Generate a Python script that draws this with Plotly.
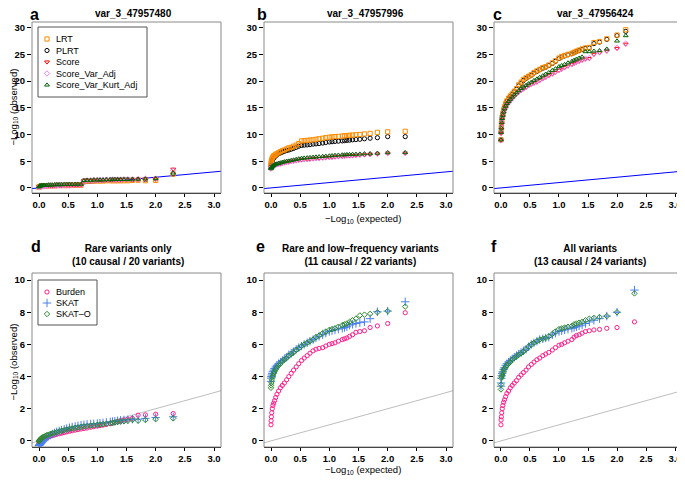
import plotly.graph_objects as go
from plotly.subplots import make_subplots

# =============================================================================
# DATA  (expected / observed -log10 p)
# =============================================================================

EXPECTED = [2.301, 2.0, 1.824, 1.699, 1.602, 1.523, 1.456, 1.398, 1.347, 1.301,
            1.26, 1.222, 1.155, 1.097, 1.046, 1.0, 0.939, 0.886, 0.824, 0.771,
            0.721, 0.668, 0.62, 0.569, 0.523, 0.475, 0.432, 0.387, 0.347, 0.305,
            0.268, 0.229, 0.194, 0.161, 0.131, 0.102, 0.081, 0.06, 0.046, 0.032,
            0.022, 0.013, 0.007, 0.002, 0.0]
# panel c: its top point sits further left
EXPECTED_C = [2.15, 2.0, 1.824, 1.699, 1.602, 1.523, 1.456, 1.398, 1.347, 1.301,
              1.26, 1.222, 1.155, 1.097, 1.046, 1.0, 0.939, 0.886, 0.824, 0.771,
              0.721, 0.668, 0.62, 0.569, 0.523, 0.475, 0.432, 0.387, 0.347, 0.305,
              0.268, 0.229, 0.194, 0.161, 0.131, 0.102, 0.081, 0.06, 0.046, 0.032,
              0.022, 0.013, 0.007, 0.002, 0.0]

# panel a : var_3_47957480
a_lrt = [2.6, 1.4, 1.35, 1.45, 1.4, 1.35, 1.35, 1.35, 1.35, 1.35, 1.35, 1.35, 1.35, 1.3, 1.3,
         1.3, 1.3, 1.3, 1.25, 1.2, 0.5, 0.5, 0.5, 0.5, 0.45, 0.45, 0.45, 0.45, 0.45, 0.45,
         0.4, 0.4, 0.4, 0.4, 0.4, 0.35, 0.35, 0.35, 0.3, 0.3, 0.3, 0.25, 0.25, 0.2, 0.1]
a_plrt = [2.6, 1.7, 1.6, 1.6, 1.55, 1.55, 1.55, 1.5, 1.5, 1.5, 1.5, 1.5, 1.5, 1.45, 1.45,
          1.45, 1.45, 1.4, 1.4, 1.35, 0.65, 0.65, 0.6, 0.6, 0.6, 0.6, 0.55, 0.55, 0.55, 0.55,
          0.5, 0.5, 0.5, 0.5, 0.45, 0.45, 0.45, 0.4, 0.4, 0.35, 0.35, 0.3, 0.3, 0.25, 0.2]
a_score = [3.5, 1.75, 1.7, 1.65, 1.6, 1.6, 1.6, 1.55, 1.55, 1.55, 1.55, 1.5, 1.5, 1.5, 1.45,
           1.45, 1.45, 1.4, 1.4, 1.35, 0.55, 0.55, 0.5, 0.5, 0.5, 0.5, 0.45, 0.45, 0.45, 0.45,
           0.4, 0.4, 0.4, 0.4, 0.35, 0.35, 0.35, 0.3, 0.3, 0.25, 0.25, 0.2, 0.2, 0.15, 0.1]
a_var = [3.3, 1.75, 1.7, 1.65, 1.6, 1.6, 1.6, 1.55, 1.55, 1.55, 1.55, 1.5, 1.5, 1.5, 1.45,
         1.45, 1.45, 1.4, 1.4, 1.35, 0.6, 0.55, 0.55, 0.5, 0.5, 0.5, 0.5, 0.45, 0.45, 0.45,
         0.45, 0.4, 0.4, 0.4, 0.4, 0.35, 0.35, 0.3, 0.3, 0.3, 0.25, 0.2, 0.2, 0.15, 0.1]
a_kurt = [2.8, 1.75, 1.7, 1.65, 1.65, 1.6, 1.6, 1.6, 1.6, 1.6, 1.55, 1.55, 1.55, 1.5, 1.5,
          1.5, 1.5, 1.45, 1.45, 1.4, 0.7, 0.7, 0.7, 0.65, 0.65, 0.65, 0.65, 0.6, 0.6, 0.6,
          0.6, 0.55, 0.55, 0.55, 0.5, 0.5, 0.5, 0.45, 0.45, 0.4, 0.4, 0.35, 0.3, 0.25, 0.2]

# panel b : var_3_47957996
b_lrt = [10.6, 10.5, 10.4, 10.2, 10.1, 10.0, 9.95, 9.9, 9.85, 9.8, 9.75, 9.7, 9.65, 9.6, 9.55,
         9.5, 9.4, 9.3, 9.2, 9.1, 9.0, 8.95, 8.9, 8.85, 8.8, 8.3, 8.0, 7.8, 7.6, 7.5,
         7.3, 7.1, 7.0, 6.8, 6.6, 6.4, 6.3, 6.1, 6.0, 5.8, 5.6, 5.3, 5.0, 4.7, 4.4]
b_plrt = [9.6, 9.6, 9.4, 9.3, 9.2, 9.1, 9.05, 9.0, 8.95, 8.9, 8.85, 8.8, 8.75, 8.7, 8.65,
          8.6, 8.5, 8.4, 8.3, 8.25, 8.2, 8.1, 8.05, 8.0, 7.95, 7.8, 7.6, 7.4, 7.25, 7.1,
          7.0, 6.85, 6.7, 6.55, 6.4, 6.2, 6.0, 5.8, 5.6, 5.4, 5.1, 4.8, 4.5, 4.2, 3.8]
b_score = [6.5, 6.5, 6.35, 6.3, 6.2, 6.15, 6.1, 6.05, 6.0, 6.0, 5.95, 5.9, 5.85, 5.8, 5.75,
           5.7, 5.65, 5.6, 5.55, 5.5, 5.45, 5.4, 5.35, 5.3, 5.25, 5.2, 5.1, 5.0, 4.95, 4.85,
           4.8, 4.7, 4.6, 4.5, 4.45, 4.35, 4.3, 4.2, 4.15, 4.05, 4.0, 3.9, 3.8, 3.7, 3.6]
b_var = [6.55, 6.5, 6.4, 6.3, 6.25, 6.2, 6.15, 6.1, 6.05, 6.05, 6.0, 5.95, 5.9, 5.85, 5.8,
         5.75, 5.7, 5.65, 5.6, 5.55, 5.5, 5.45, 5.4, 5.35, 5.3, 5.25, 5.15, 5.05, 5.0, 4.9,
         4.85, 4.75, 4.65, 4.55, 4.5, 4.4, 4.35, 4.25, 4.2, 4.1, 4.0, 3.9, 3.8, 3.7, 3.6]
b_kurt = [6.6, 6.6, 6.5, 6.4, 6.4, 6.35, 6.3, 6.3, 6.25, 6.25, 6.2, 6.2, 6.15, 6.1, 6.05,
          6.0, 5.95, 5.9, 5.85, 5.8, 5.75, 5.7, 5.65, 5.6, 5.55, 5.45, 5.35, 5.25, 5.15, 5.05,
          5.0, 4.9, 4.8, 4.7, 4.6, 4.5, 4.45, 4.35, 4.25, 4.15, 4.05, 3.95, 3.85, 3.75, 3.6]

# panel c : var_3_47956424
c_lrt = [29.6, 28.6, 27.9, 27.4, 27.2, 26.3, 26.2, 26.0, 25.8, 25.6, 25.4, 25.2, 25.0, 24.8, 24.6,
         24.3, 23.8, 23.4, 23.0, 22.7, 22.5, 22.2, 21.9, 21.6, 21.2, 20.9, 20.6, 20.3, 19.8, 19.3,
         18.6, 18.1, 17.6, 17.2, 16.8, 16.3, 15.8, 15.2, 14.6, 14.0, 13.3, 12.5, 11.5, 10.5, 9.0]
c_plrt = [29.3, 28.5, 27.8, 27.3, 27.0, 26.2, 26.1, 25.9, 25.7, 25.5, 25.3, 25.1, 24.9, 24.7, 24.5,
          24.2, 23.7, 23.3, 22.9, 22.6, 22.4, 22.1, 21.8, 21.5, 21.1, 20.8, 20.5, 20.1, 19.6, 19.1,
          18.5, 18.0, 17.5, 17.1, 16.7, 16.2, 15.7, 15.1, 14.5, 13.9, 13.2, 12.4, 11.4, 10.4, 9.0]
c_score = [26.9, 26.1, 25.6, 25.3, 25.0, 24.2, 24.1, 23.9, 23.7, 23.5, 23.3, 23.1, 22.8, 22.5, 22.2,
           22.0, 21.6, 21.3, 21.0, 20.7, 20.4, 20.1, 19.8, 19.6, 19.4, 19.1, 18.8, 18.5, 18.2, 17.9,
           17.5, 17.1, 16.7, 16.3, 15.9, 15.5, 15.0, 14.5, 14.0, 13.4, 12.8, 12.0, 11.0, 10.2, 8.8]
c_var = [27.0, 26.2, 25.7, 25.4, 25.1, 24.3, 24.2, 24.0, 23.8, 23.6, 23.4, 23.2, 22.9, 22.6, 22.3,
         22.1, 21.7, 21.4, 21.1, 20.8, 20.5, 20.2, 19.9, 19.7, 19.5, 19.2, 18.9, 18.6, 18.3, 18.0,
         17.6, 17.2, 16.8, 16.4, 16.0, 15.6, 15.1, 14.6, 14.1, 13.5, 12.9, 12.1, 11.1, 10.3, 8.9]
c_kurt = [28.5, 27.5, 26.0, 25.7, 25.6, 25.5, 25.5, 24.5, 24.3, 24.1, 23.9, 23.7, 23.4, 23.1, 22.9,
          22.7, 22.3, 22.0, 21.6, 21.3, 21.0, 20.7, 20.4, 20.1, 19.8, 19.5, 19.2, 18.9, 18.6, 18.2,
          17.8, 17.4, 17.0, 16.6, 16.2, 15.8, 15.3, 14.8, 14.2, 13.6, 13.0, 12.2, 11.2, 10.4, 9.0]

# panel d : rare variants only
d_burden = [1.7, 1.66, 1.62, 1.6, 1.4, 1.35, 1.3, 1.25, 1.2, 1.15, 1.1, 1.07, 1.02, 0.98, 0.95,
            0.92, 0.88, 0.85, 0.8, 0.77, 0.74, 0.7, 0.67, 0.63, 0.6, 0.56, 0.52, 0.48, 0.45, 0.41,
            0.37, 0.33, 0.29, 0.25, 0.21, 0.17, 0.13, 0.09, 0.06, 0.03, 0.0, -0.03, -0.06, -0.1, -0.15]
d_skat = [1.5, 1.45, 1.4, 1.35, 1.35, 1.32, 1.3, 1.28, 1.25, 1.22, 1.2, 1.18, 1.15, 1.12, 1.1,
          1.08, 1.06, 1.05, 1.03, 1.0, 0.97, 0.93, 0.9, 0.86, 0.82, 0.77, 0.72, 0.67, 0.62, 0.56,
          0.5, 0.43, 0.36, 0.29, 0.2, 0.1, 0.03, -0.05, -0.1, -0.15, -0.2, -0.22, -0.25, -0.28, -0.3]
d_skato = [1.4, 1.35, 1.3, 1.25, 1.3, 1.25, 1.22, 1.2, 1.17, 1.15, 1.12, 1.1, 1.07, 1.05, 1.02,
           1.0, 0.97, 0.95, 0.92, 0.9, 0.87, 0.84, 0.81, 0.78, 0.75, 0.71, 0.67, 0.63, 0.59, 0.55,
           0.51, 0.47, 0.43, 0.39, 0.35, 0.3, 0.26, 0.22, 0.18, 0.14, 0.1, 0.06, 0.03, 0.0, -0.02]

# panel e : rare and low-frequency variants
e_burden = [7.97, 7.3, 7.15, 7.05, 6.85, 6.8, 6.75, 6.6, 6.5, 6.4, 6.35, 6.3, 6.2, 6.1, 6.05,
            6.0, 5.9, 5.8, 5.75, 5.7, 5.6, 5.45, 5.3, 5.15, 5.0, 4.8, 4.6, 4.4, 4.2, 4.0,
            3.8, 3.6, 3.45, 3.3, 3.1, 2.9, 2.7, 2.5, 2.35, 2.2, 2.0, 1.75, 1.5, 1.25, 1.0]
e_skat = [8.65, 8.07, 8.03, 7.6, 7.4, 7.35, 7.3, 7.25, 7.2, 7.1, 7.05, 7.0, 6.95, 6.9, 6.85,
          6.8, 6.7, 6.6, 6.5, 6.4, 6.3, 6.2, 6.1, 6.0, 5.9, 5.8, 5.7, 5.55, 5.45, 5.35,
          5.2, 5.1, 5.0, 4.9, 4.8, 4.7, 4.6, 4.5, 4.4, 4.3, 4.2, 4.1, 4.0, 3.9, 3.7]
e_skato = [8.35, 8.07, 8.0, 7.9, 7.85, 7.8, 7.6, 7.5, 7.4, 7.3, 7.25, 7.2, 7.1, 7.0, 6.95,
           6.9, 6.8, 6.7, 6.55, 6.45, 6.3, 6.2, 6.1, 6.0, 5.9, 5.75, 5.65, 5.5, 5.4, 5.3,
           5.15, 5.05, 4.95, 4.8, 4.7, 4.55, 4.45, 4.3, 4.2, 4.05, 3.95, 3.8, 3.6, 3.45, 3.3]

# panel f : all variants
f_burden = [7.4, 7.05, 7.0, 6.93, 6.9, 6.85, 6.8, 6.7, 6.6, 6.55, 6.45, 6.3, 6.2, 6.1, 6.0,
            5.95, 5.8, 5.65, 5.5, 5.4, 5.3, 5.15, 5.05, 4.9, 4.75, 4.6, 4.4, 4.25, 4.1, 3.95,
            3.75, 3.6, 3.45, 3.3, 3.1, 2.95, 2.75, 2.55, 2.4, 2.2, 2.0, 1.75, 1.5, 1.3, 1.0]
f_skat = [9.38, 8.0, 7.76, 7.6, 7.5, 7.4, 7.3, 7.2, 7.15, 7.1, 7.05, 7.0, 6.95, 6.9, 6.85,
          6.8, 6.7, 6.6, 6.45, 6.4, 6.35, 6.3, 6.2, 6.1, 6.0, 5.85, 5.7, 5.6, 5.5, 5.4,
          5.3, 5.2, 5.1, 5.0, 4.9, 4.8, 4.7, 4.55, 4.45, 4.3, 4.2, 4.05, 3.9, 3.6, 3.4]
f_skato = [9.17, 8.0, 7.76, 7.7, 7.65, 7.6, 7.5, 7.4, 7.35, 7.3, 7.25, 7.15, 7.1, 7.05, 7.0,
           6.95, 6.8, 6.65, 6.5, 6.4, 6.35, 6.3, 6.2, 6.1, 6.0, 5.85, 5.7, 5.55, 5.45, 5.35,
           5.25, 5.15, 5.05, 4.9, 4.8, 4.7, 4.6, 4.5, 4.4, 4.25, 4.1, 4.0, 3.9, 3.5, 3.2]

TOP_TITLES = ["var_3_47957480", "var_3_47957996", "var_3_47956424"]
BOTTOM_TITLES = ["Rare variants only<br>(10 causal / 20 variants)",
                 "Rare and low\u2013frequency variants<br>(11 causal / 22 variants)",
                 "All variants<br>(13 causal / 24 variants)"]
LETTERS = ["a", "b", "c", "d", "e", "f"]

TOP_METHODS = ["LRT", "PLRT", "Score", "Score_Var_Adj", "Score_Var_Kurt_Adj"]
BOTTOM_METHODS = ["Burden", "SKAT", "SKAT\u2013O"]

X_TICKS = [0, 0.5, 1, 1.5, 2, 2.5, 3]
Y_TICKS = [[0, 5, 10, 15, 20, 25, 30], [0, 2, 4, 6, 8, 10]]

top_x = [EXPECTED, EXPECTED, EXPECTED_C]
top_data = [[a_lrt, a_plrt, a_score, a_var, a_kurt],
            [b_lrt, b_plrt, b_score, b_var, b_kurt],
            [c_lrt, c_plrt, c_score, c_var, c_kurt]]
bottom_data = [[d_burden, d_skat, d_skato],
               [e_burden, e_skat, e_skato],
               [f_burden, f_skat, f_skato]]

# =============================================================================
# STYLE / LAYOUT
# =============================================================================

# the page body keeps its default 8px margin, so the figure is drawn 8px smaller
# and every position below is given in window pixels, then shifted by OFF
WIN_W, WIN_H = 685, 481
OFF = 8
W, H = WIN_W - OFF, WIN_H - OFF
FONT = "Liberation Sans"

top_style = {
    "LRT": ("square-open", "#FF8C00"),
    "PLRT": ("circle-open", "#000000"),
    "Score": ("triangle-down-open", "#FF0000"),
    "Score_Var_Adj": ("diamond-open", "#EE82EE"),
    "Score_Var_Kurt_Adj": ("triangle-up-open", "#006400"),
}
bottom_style = {
    "Burden": ("circle-open", "#FF1E8C"),
    "SKAT": ("cross-thin-open", "#4A7FF0"),
    "SKAT\u2013O": ("diamond-open", "#2A8A2A"),
}
# drawing order (last on top)
TOP_ORDER = ["PLRT", "LRT", "Score", "Score_Var_Adj", "Score_Var_Kurt_Adj"]
BOTTOM_ORDER = ["Burden", "SKAT", "SKAT\u2013O"]
MSIZE = 4.2

# panel boxes in window pixels (left, right) and (top, bottom)
COLS = [(32, 221), (264, 453), (494, 682)]
ROWS = [(22, 193), (273, 447)]
XRANGE = [-0.12, 3.12]
YRANGES = [[-0.95, 31.05], [-0.38, 10.44]]


def px(x):
    return (x - OFF) / W


def py(y):
    return 1 - (y - OFF) / H


def pix_to_data(r, c, x, y):
    # window pixel -> data coordinates of panel (r, c), used for legend keys
    x0, x1 = COLS[c]
    y0, y1 = ROWS[r]
    dx = XRANGE[0] + (x - x0) / (x1 - x0) * (XRANGE[1] - XRANGE[0])
    dy = YRANGES[r][1] - (y - y0) / (y1 - y0) * (YRANGES[r][1] - YRANGES[r][0])
    return dx, dy


def bold(s):
    return "<b>%s</b>" % s


fig = make_subplots(rows=2, cols=3)

for r in range(2):
    for c in range(3):
        i = r * 3 + c + 1
        sfx = "" if i == 1 else str(i)
        fig.layout["xaxis" + sfx].update(
            domain=[px(COLS[c][0]), px(COLS[c][1])], range=XRANGE,
            tickmode="array", tickvals=X_TICKS, ticktext=[bold("%.1f" % v) for v in X_TICKS],
            showgrid=False, zeroline=False, showline=True, linecolor="black", linewidth=1,
            ticks="outside", ticklen=3, tickcolor="black", ticklabeloverflow="allow",
            tickfont=dict(family=FONT, size=9.5, color="black"))
        fig.layout["yaxis" + sfx].update(
            domain=[py(ROWS[r][1]), py(ROWS[r][0])], range=YRANGES[r],
            tickmode="array", tickvals=Y_TICKS[r], ticktext=[bold(v) for v in Y_TICKS[r]],
            showgrid=False, zeroline=False, showline=False,
            ticks="outside", ticklen=4, tickcolor="black",
            tickfont=dict(family=FONT, size=9.5, color="black"))
        # grey frame around the plotting region
        fig.add_shape(type="rect", xref="x%s domain" % sfx, yref="y%s domain" % sfx,
                      x0=0, x1=1, y0=0, y1=1, line=dict(color="#8a8a8a", width=1), layer="above")

        # diagonal y = x
        diag_col = "#0000FF" if r == 0 else "#BEBEBE"
        fig.add_trace(go.Scatter(x=[-0.2, 3.3], y=[-0.2, 3.3], mode="lines",
                                 line=dict(color=diag_col, width=1), showlegend=False,
                                 hoverinfo="skip"), row=r + 1, col=c + 1)

        if r == 0:
            series = dict(zip(TOP_METHODS, top_data[c]))
            for m in TOP_ORDER:
                sym, col = top_style[m]
                fig.add_trace(go.Scatter(x=top_x[c], y=series[m], mode="markers", name=m,
                                         marker=dict(symbol=sym, size=MSIZE, color=col,
                                                     line=dict(width=1, color=col)),
                                         showlegend=False), row=1, col=c + 1)
        else:
            series = dict(zip(BOTTOM_METHODS, bottom_data[c]))
            for m in BOTTOM_ORDER:
                sym, col = bottom_style[m]
                size = 6 if m == "SKAT" else MSIZE
                fig.add_trace(go.Scatter(x=EXPECTED, y=series[m], mode="markers", name=m,
                                         marker=dict(symbol=sym, size=size, color=col,
                                                     line=dict(width=1, color=col)),
                                         showlegend=False), row=2, col=c + 1)

annotations = []

# legends drawn as in base R: box, key symbol, label
legends = [(0, TOP_METHODS, top_style, (38, 147, 27, 97), 39, 11.5),
           (1, BOTTOM_METHODS, bottom_style, (38, 97, 280, 325), 292, 11)]
for r, methods, style, (lx0, lx1, ly0, ly1), first, step in legends:
    sfx = "" if r == 0 else "4"
    bx0, by0 = pix_to_data(r, 0, lx0, ly0)
    bx1, by1 = pix_to_data(r, 0, lx1, ly1)
    fig.add_shape(type="rect", xref="x" + sfx, yref="y" + sfx, x0=bx0, x1=bx1, y0=by1, y1=by0,
                  line=dict(color="#555555", width=1), fillcolor="white", layer="below")
    for k, m in enumerate(methods):
        yk = first + k * step
        sym, col = style[m]
        kx, ky = pix_to_data(r, 0, 47, yk)
        size = 6 if m == "SKAT" else MSIZE
        fig.add_trace(go.Scatter(x=[kx], y=[ky], mode="markers",
                                 marker=dict(symbol=sym, size=size, color=col, line=dict(width=1, color=col)),
                                 showlegend=False, hoverinfo="skip"), row=r + 1, col=1)
        annotations.append(dict(x=px(54), y=py(yk), xref="paper", yref="paper", text=m, showarrow=False,
                                xanchor="left", yanchor="middle",
                                font=dict(family=FONT, size=9, color="black")))

# panel letters (the top rows of the window lie in the page margin)
letter_pos = [(34, 15), (262, 15), (497, 15), (36, 246), (260, 246), (494, 246)]
for L, (lx, ly) in zip(LETTERS, letter_pos):
    annotations.append(dict(x=px(lx), y=py(ly), xref="paper", yref="paper", text=bold(L),
                            showarrow=False, xanchor="center", yanchor="middle",
                            font=dict(family=FONT, size=16, color="black")))

# panel titles
for c, t in enumerate(TOP_TITLES):
    cx = (COLS[c][0] + COLS[c][1]) / 2 + 7
    annotations.append(dict(x=px(cx), y=py(13), xref="paper", yref="paper", text=bold(t),
                            showarrow=False, xanchor="center", yanchor="middle",
                            font=dict(family=FONT, size=10, color="black")))
for c, t in enumerate(BOTTOM_TITLES):
    cx = (COLS[c][0] + COLS[c][1]) / 2 + 2
    annotations.append(dict(x=px(cx), y=py(255), xref="paper", yref="paper",
                            text="<br>".join(bold(s) for s in t.split("<br>")),
                            showarrow=False, xanchor="center", yanchor="middle",
                            font=dict(family=FONT, size=10, color="black")))

# axis titles
ylab = "\u2212Log<sub>10</sub> (observed)"
xlab = "\u2212Log<sub>10</sub> (expected)"
for cy in [107, 362]:
    annotations.append(dict(x=px(13.5), y=py(cy), xref="paper", yref="paper", text=ylab, textangle=-90,
                            showarrow=False, xanchor="center", yanchor="middle",
                            font=dict(family=FONT, size=9.5, color="black")))
for cy in [219, 470]:
    annotations.append(dict(x=px(363), y=py(cy), xref="paper", yref="paper", text=xlab,
                            showarrow=False, xanchor="center", yanchor="middle",
                            font=dict(family=FONT, size=9.5, color="black")))

fig.update_layout(
    width=W, height=H,
    margin=dict(l=0, r=0, t=0, b=0),
    paper_bgcolor="white", plot_bgcolor="white",
    showlegend=False,
    annotations=annotations,
    font=dict(family=FONT, color="black"),
)

fig.write_html("out.html")
